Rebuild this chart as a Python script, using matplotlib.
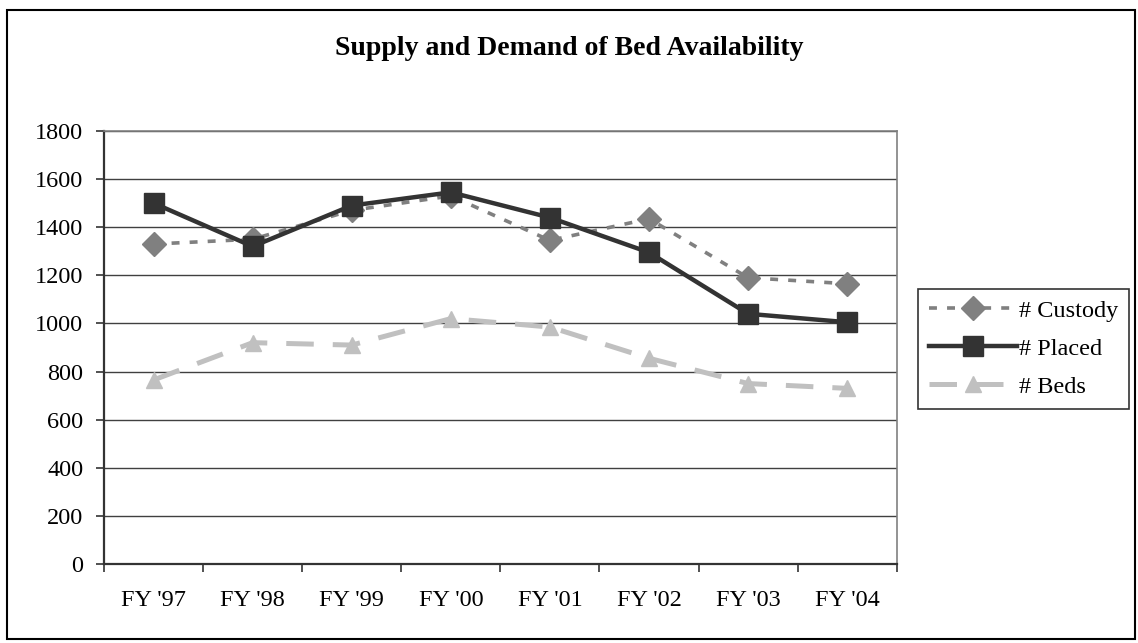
import numpy as np
import matplotlib
matplotlib.use("Agg")
import matplotlib.pyplot as plt
from matplotlib.patches import Rectangle

plt.rcParams['font.family'] = ['Liberation Serif', 'DejaVu Serif']

years = ["FY '97", "FY '98", "FY '99", "FY '00", "FY '01", "FY '02", "FY '03", "FY '04"]
custody = [1330, 1350, 1470, 1530, 1345, 1435, 1190, 1165]
placed = [1500, 1320, 1490, 1545, 1440, 1295, 1040, 1005]
beds = [765, 920, 910, 1020, 985, 855, 750, 730]

fig = plt.figure(figsize=(11.38, 6.43), dpi=100)
ax = fig.add_axes([0.0914, 0.1229, 0.6966, 0.6734])

x = np.arange(len(years))
ax.plot(x, custody, color='#808080', lw=2.6, dashes=(2.2, 2.8), marker='D',
        markersize=12, markeredgecolor='#808080', label='# Custody')
ax.plot(x, placed, color='#333333', lw=3.2, marker='s', markersize=14,
        markeredgecolor='#333333', label='# Placed')
ax.plot(x, beds, color='#c0c0c0', lw=3.6, dashes=(5.5, 3.8), marker='^',
        markersize=12, markeredgecolor='#c0c0c0', label='# Beds')

ax.set_xlim(-0.5, len(years) - 0.5)
ax.set_ylim(0, 1800)
ax.set_yticks(np.arange(0, 1801, 200))
ax.set_xticks(x)
ax.set_xticklabels(years)
ax.set_xticks(np.arange(-0.5, len(years), 1), minor=True)
ax.tick_params(axis='x', which='major', length=0, pad=19, labelsize=17.5)
ax.tick_params(axis='x', which='minor', length=6, width=1.2, color='#333333', direction='out')
ax.tick_params(axis='y', length=6, width=1.2, color='#333333', pad=9, labelsize=17.5)
ax.grid(axis='y', color='#404040', lw=1)
ax.set_axisbelow(True)
for s in ['left', 'bottom']:
    ax.spines[s].set_color('#333333')
    ax.spines[s].set_linewidth(1.6)
for s in ['top', 'right']:
    ax.spines[s].set_color('#808080')
    ax.spines[s].set_linewidth(1.2)

fig.text(0.5, 0.925, 'Supply and Demand of Bed Availability', ha='center', va='center',
         fontsize=20, fontweight='bold')

leg = fig.legend(loc='upper left', bbox_to_anchor=(0.807, 0.5505), borderaxespad=0,
                 fontsize=17.5, frameon=True, fancybox=False, framealpha=1,
                 edgecolor='#333333', handlelength=3.6, handletextpad=0.1,
                 borderpad=0.45, labelspacing=0.65)
leg.get_frame().set_linewidth(1.2)

fig.patches.append(Rectangle((0.006, 0.006), 0.991, 0.978, transform=fig.transFigure,
                             fill=False, edgecolor='black', lw=1.5))

fig.savefig('out.png', dpi=100)
